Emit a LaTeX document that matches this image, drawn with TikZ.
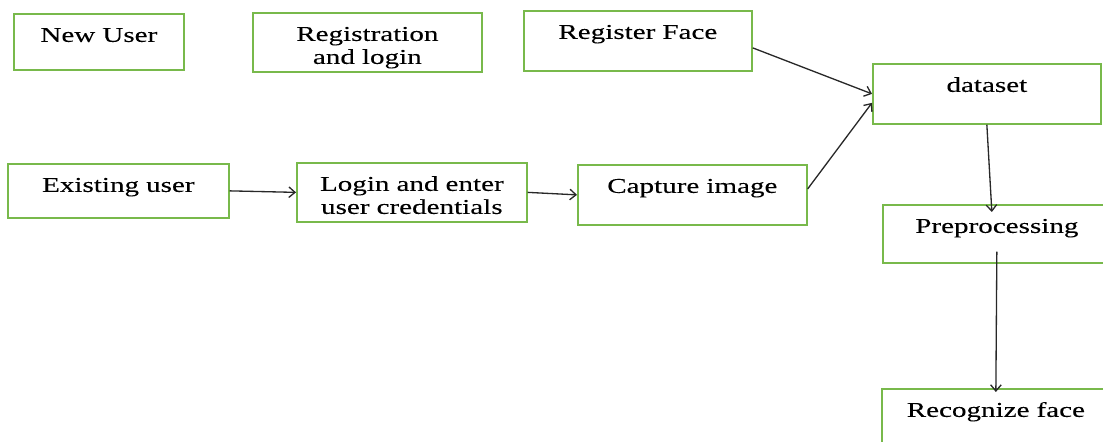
\documentclass[tikz,border=0pt]{standalone}
\usepackage{fontspec}
\setmainfont{Liberation Serif}[FakeStretch=1.38,FakeBold=0.12]
\usepackage{xcolor}
\usetikzlibrary{positioning,arrows.meta}
\definecolor{boxgreen}{RGB}{120,185,75}
\definecolor{arrowgray}{RGB}{40,40,40}

\begin{document}
\begin{tikzpicture}[
    x=0.02cm, y=-0.02cm,
    box/.style={draw=boxgreen, line width=1pt, anchor=north west, inner sep=0pt, align=center, text width=4.56cm, text height=0.56cm, font=\fontsize{12}{13.1}\selectfont},
    arrow/.style={-{Straight Barb[length=3.5pt,width=6pt]}, line width=0.75pt, arrowgray}
]

% Frame
\useasboundingbox (0,0) rectangle (1103,442);
\clip (0,0) rectangle (1103,442);

% Top row
\node[box, text width=3.4cm, text depth=0.56cm] (newuser) at (13,13) {New User};
\node[box, text width=4.58cm, text depth=0.62cm] (reglogin) at (252,12) {Registration\\and login};
\node[box, text depth=0.64cm] (regface) at (523,10) {Register Face};

% Middle row
\node[box, text width=4.42cm, text depth=0.52cm] (existing) at (7,163) {Existing user};
\node[box, text width=4.6cm, text depth=0.62cm] (login) at (296,162) {Login and enter\\user credentials};
\node[box, text width=4.58cm, text depth=0.64cm] (capture) at (577,164) {Capture image};

% Right column
\node[box, text depth=0.64cm] (dataset) at (872,63) {dataset};
\node[box, text depth=0.6cm] (preproc) at (882,204) {Preprocessing};
\node[box, text depth=0.6cm] (recog) at (881,388) {Recognize face};

% Arrows
\draw[arrow] (existing.east) -- (login.west);
\draw[arrow] (login.east) -- (capture.west);
\draw[arrow] ([yshift=-0.14cm]regface.east) -- (dataset.west);
\draw[arrow] ([yshift=0.12cm]capture.east) -- ([yshift=-0.18cm]dataset.west);
\draw[arrow] (dataset.south) -- ([xshift=-0.1cm,yshift=-0.16cm]preproc.north);
\draw[arrow] ([yshift=0.24cm]preproc.south) -- ([yshift=-0.08cm]recog.north);

\end{tikzpicture}
\end{document}
